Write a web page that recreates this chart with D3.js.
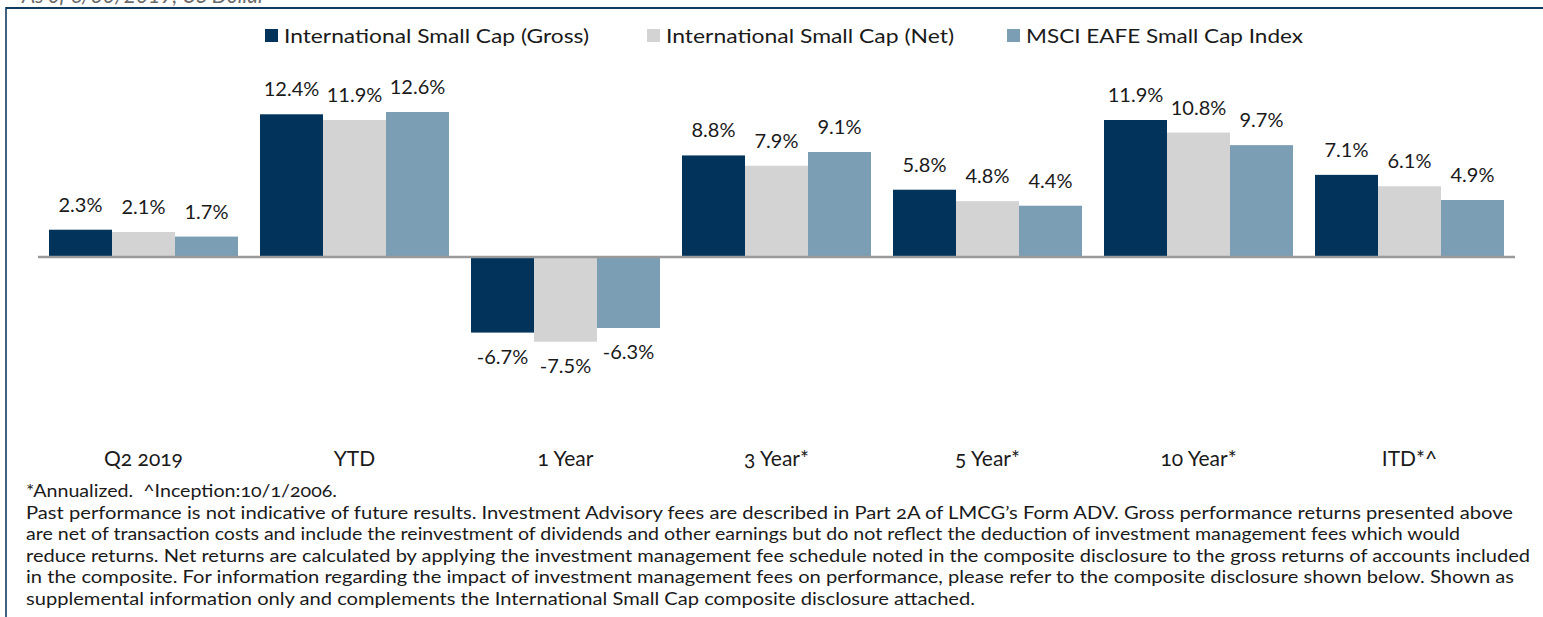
<!DOCTYPE html>
<html>
<head>
<meta charset="utf-8">
<title>International Small Cap returns</title>
<style>
  body { margin: 0; background: #fff; }
  svg text { font-family: Lato, "Open Sans", sans-serif; }
</style>
</head>
<body>
<svg width="1543" height="617"></svg>
<script src="https://d3js.org/d3.v7.min.js"></script>
<script>

const categories = ["Q2 2019", "YTD", "1 Year", "3 Year*", "5 Year*", "10 Year*", "ITD*^"]
const seriesNames = ["International Small Cap (Gross)", "International Small Cap (Net)", "MSCI EAFE Small Cap Index"]
const gross = [2.3, 12.4, -6.7, 8.8, 5.8, 11.9, 7.1]
const net = [2.1, 11.9, -7.5, 7.9, 4.8, 10.8, 6.1]
const msci = [1.7, 12.6, -6.3, 9.1, 4.4, 9.7, 4.9]
const colors = ["#02335a", "#d3d3d3", "#7b9eb4"]

const footnotes = [
  "*Annualized.  ^Inception:10/1/2006.",
  "Past performance is not indicative of future results. Investment Advisory fees are described in Part 2A of LMCG\u2019s Form ADV. Gross performance returns presented above",
  "are net of transaction costs and include the reinvestment of dividends and other earnings but do not reflect the deduction of investment management fees which would",
  "reduce returns. Net returns are calculated by applying the investment management fee schedule noted in the composite disclosure to the gross returns of accounts included",
  "in the composite. For information regarding the impact of investment management fees on performance, please refer to the composite disclosure shown below. Shown as",
  "supplemental information only and complements the International Small Cap composite disclosure attached."
]
// widths of each footnote line in the picture
const footWidths = [311, 1487, 1434, 1504, 1488, 949]

const svg = d3.select("svg")

// rows: one per category, three values
const rows = categories.map((c, i) => ({cat: c, values: [gross[i], net[i], msci[i]]}))

const x0 = d3.scaleBand()
  .domain(categories)
  .range([38, 1515])
  .paddingInner(22 / 211)
  .paddingOuter(11 / 211)

const x1 = d3.scaleBand()
  .domain(d3.range(seriesNames.length))
  .range([0, x0.bandwidth()])

const y = d3.scaleLinear()
  .domain([-8, 14])
  .range([347.44, 96])

// frame
svg.append("line")
  .attr("x1", 6).attr("x2", 1543).attr("y1", 8).attr("y2", 8)
  .attr("stroke", "#123a5e").attr("stroke-width", 2.2)
svg.append("line")
  .attr("x1", 6).attr("x2", 6).attr("y1", 7).attr("y2", 617)
  .attr("stroke", "#123a5e").attr("stroke-width", 1.6)

// header cut off at top
svg.append("text")
  .attr("x", 22).attr("y", 3)
  .attr("font-size", 21)
  .attr("font-style", "italic")
  .attr("fill", "#6a6a6a")
  .text("As of 6/30/2019, US Dollar")

// legend
const legendX = [265, 647, 1007]
const legendTextW = [305, 288, 277]
const legend = svg.append("g")
  .selectAll("g")
  .data(seriesNames)
  .join("g")
  .attr("transform", (d, i) => `translate(${legendX[i]},29)`)
legend.append("rect")
  .attr("width", 13).attr("height", 13)
  .attr("fill", (d, i) => colors[i])
legend.append("text")
  .attr("x", 19).attr("y", 14)
  .attr("font-size", 20)
  .attr("fill", "#1a1a1a")
  .attr("textLength", (d, i) => legendTextW[i])
  .attr("lengthAdjust", "spacingAndGlyphs")
  .text(d => d)

// bars
const groups = svg.append("g")
  .selectAll("g")
  .data(rows)
  .join("g")
  .attr("transform", d => `translate(${x0(d.cat)},0)`)

groups.selectAll("rect")
  .data(d => d.values)
  .join("rect")
  .attr("x", (d, i) => x1(i))
  .attr("width", x1.bandwidth())
  .attr("y", d => y(Math.max(0, d)))
  .attr("height", d => Math.abs(y(d) - y(0)))
  .attr("fill", (d, i) => colors[i])

// zero line
svg.append("line")
  .attr("x1", x0.range()[0]).attr("x2", x0.range()[1])
  .attr("y1", y(0) + 1).attr("y2", y(0) + 1)
  .attr("stroke", "#9a9a9a").attr("stroke-width", 2.5)

// value labels
groups.selectAll("text.val")
  .data(d => d.values)
  .join("text")
  .attr("class", "val")
  .attr("x", (d, i) => x1(i) + x1.bandwidth() / 2)
  .attr("y", d => d >= 0 ? y(d) - 18 : y(d) + 31)
  .attr("text-anchor", "middle")
  .attr("font-size", 20)
  .attr("fill", "#1a1a1a")
  .text(d => d.toFixed(1) + "%")

// category labels
svg.append("g")
  .selectAll("text")
  .data(categories)
  .join("text")
  .attr("x", d => x0(d) + x0.bandwidth() / 2)
  .attr("y", 466)
  .attr("text-anchor", "middle")
  .attr("font-size", 21)
  .attr("fill", "#1a1a1a")
  .style("font-variant-numeric", "oldstyle-nums")
  .text(d => d)

// footnotes
svg.append("g")
  .selectAll("text")
  .data(footnotes)
  .join("text")
  .attr("x", 26)
  .attr("y", (d, i) => 497 + i * 21.6)
  .attr("font-size", 17.5)
  .attr("fill", "#1a1a1a")
  .attr("textLength", (d, i) => footWidths[i])
  .attr("lengthAdjust", "spacingAndGlyphs")
  .style("white-space", "pre")
  .style("font-variant-numeric", "oldstyle-nums")
  .text(d => d)

</script>
</body>
</html>
